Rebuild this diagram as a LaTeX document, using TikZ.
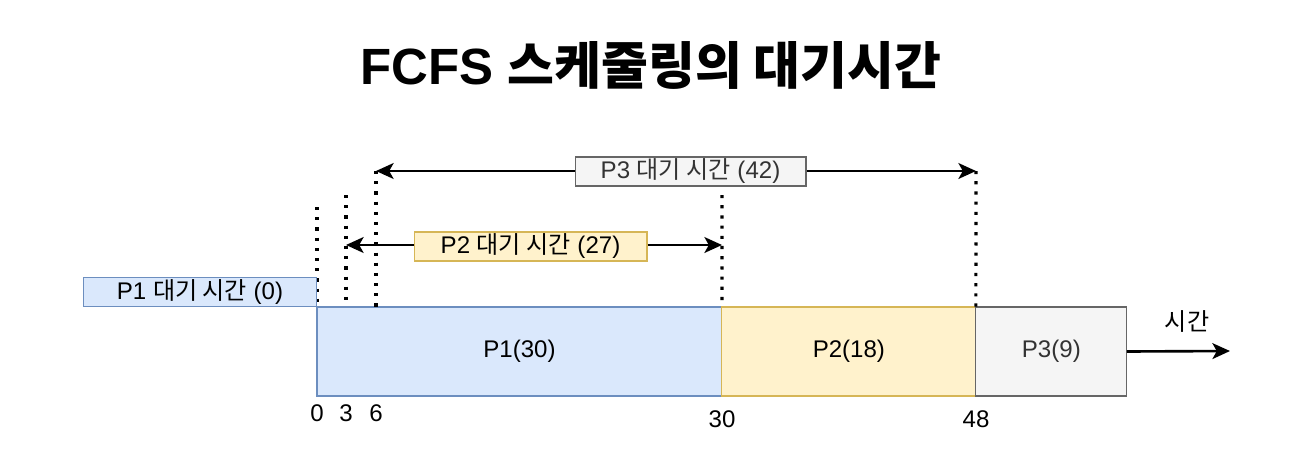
\documentclass[tikz,border=0pt]{standalone}
\usepackage{fontspec}
\setmainfont{Liberation Sans}
\newfontfamily\krfont{Noto Sans CJK KR}
\usetikzlibrary{arrows.meta, positioning}

\definecolor{blueFill}{HTML}{DAE8FC}
\definecolor{blueLine}{HTML}{6C8EBF}
\definecolor{yellowFill}{HTML}{FFF2CC}
\definecolor{yellowLine}{HTML}{D6B656}
\definecolor{grayFill}{HTML}{F5F5F5}
\definecolor{grayLine}{HTML}{666666}
\definecolor{grayText}{HTML}{333333}

\begin{document}
\begin{tikzpicture}[
        x=0.02cm, y=-0.02cm,
        labelfont/.style={font=\fontsize{13.7}{16}\selectfont},
        proc/.style={draw, line width=0.6pt, labelfont, minimum height=1.78cm, inner sep=0pt, outer sep=0pt},
        waitbox/.style={draw, line width=0.6pt, labelfont, minimum height=0.58cm, inner sep=0pt},
        span/.style={line width=1.5pt, -{Stealth[length=10pt, width=9pt, inset=2.5pt]}},
        guide/.style={line width=1.8pt, dash pattern=on 1.8pt off 4pt},
        tick/.style={labelfont}
    ]

    \useasboundingbox (0,0) rectangle (1302,457);

    % Title
    \node (title) at (651,65) {\fontsize{29}{34}\selectfont\bfseries FCFS {\krfont 스케줄링의 대기시간}};

    % Gantt bars
    \node[proc, fill=blueFill, draw=blueLine, minimum width=8.1cm, anchor=north west] (p1) at (317,307) {P1(30)};
    \node[proc, fill=yellowFill, draw=yellowLine, minimum width=5.08cm, right=0pt of p1] (p2) {P2(18)};
    \node[proc, fill=grayFill, draw=grayLine, text=grayText, minimum width=3.02cm, right=0pt of p2] (p3) {P3(9)};

    % Time axis
    \coordinate (tend) at (1230,351);
    \draw[span] (p3.east) -- (tend);
    \node[labelfont] (tlabel) at (1187,321) {\krfont 시간};

    % Guide lines
    \coordinate (g0) at (317,207);
    \coordinate (g3) at (346,195);
    \coordinate (g6) at (376,171);
    \coordinate (g30) at (722,195);
    \coordinate (g48) at (976,171);
    \coordinate (b3) at (346,307);
    \coordinate (b6) at (376,307);
    \draw[guide] (g0) -- (p1.north west);
    \draw[guide] (g3) -- (b3);
    \draw[guide] (g6) -- (b6);
    \draw[guide] (g30) -- (p2.north west);
    \draw[guide] (g48) -- (p3.north west);

    % Waiting times
    \node[waitbox, fill=blueFill, draw=blueLine, minimum width=4.66cm, anchor=south east] (w1) at (p1.north west) {P1 {\krfont 대기 시간} (0)};

    \coordinate (w2l) at (346,245);
    \coordinate (w2r) at (722,245);
    \node[waitbox, fill=yellowFill, draw=yellowLine, minimum width=4.66cm] (w2) at (530.5,246.5) {P2 {\krfont 대기 시간} (27)};
    \draw[span] (w2.west |- w2l) -- (w2l);
    \draw[span] (w2.east |- w2r) -- (w2r);

    \coordinate (w3l) at (376,171);
    \coordinate (w3r) at (976,171);
    \node[waitbox, fill=grayFill, draw=grayLine, text=grayText, minimum width=4.62cm] (w3) at (690.5,171.5) {P3 {\krfont 대기 시간} (42)};
    \draw[span] (w3.west |- w3l) -- (w3l);
    \draw[span] (w3.east |- w3r) -- (w3r);

    % Ticks
    \node[tick] (t0) at (317,413) {0};
    \node[tick] (t3) at (346,413) {3};
    \node[tick] (t6) at (376,413) {6};
    \node[tick] (t30) at (722,419) {30};
    \node[tick] (t48) at (976,419) {48};

\end{tikzpicture}
\end{document}
